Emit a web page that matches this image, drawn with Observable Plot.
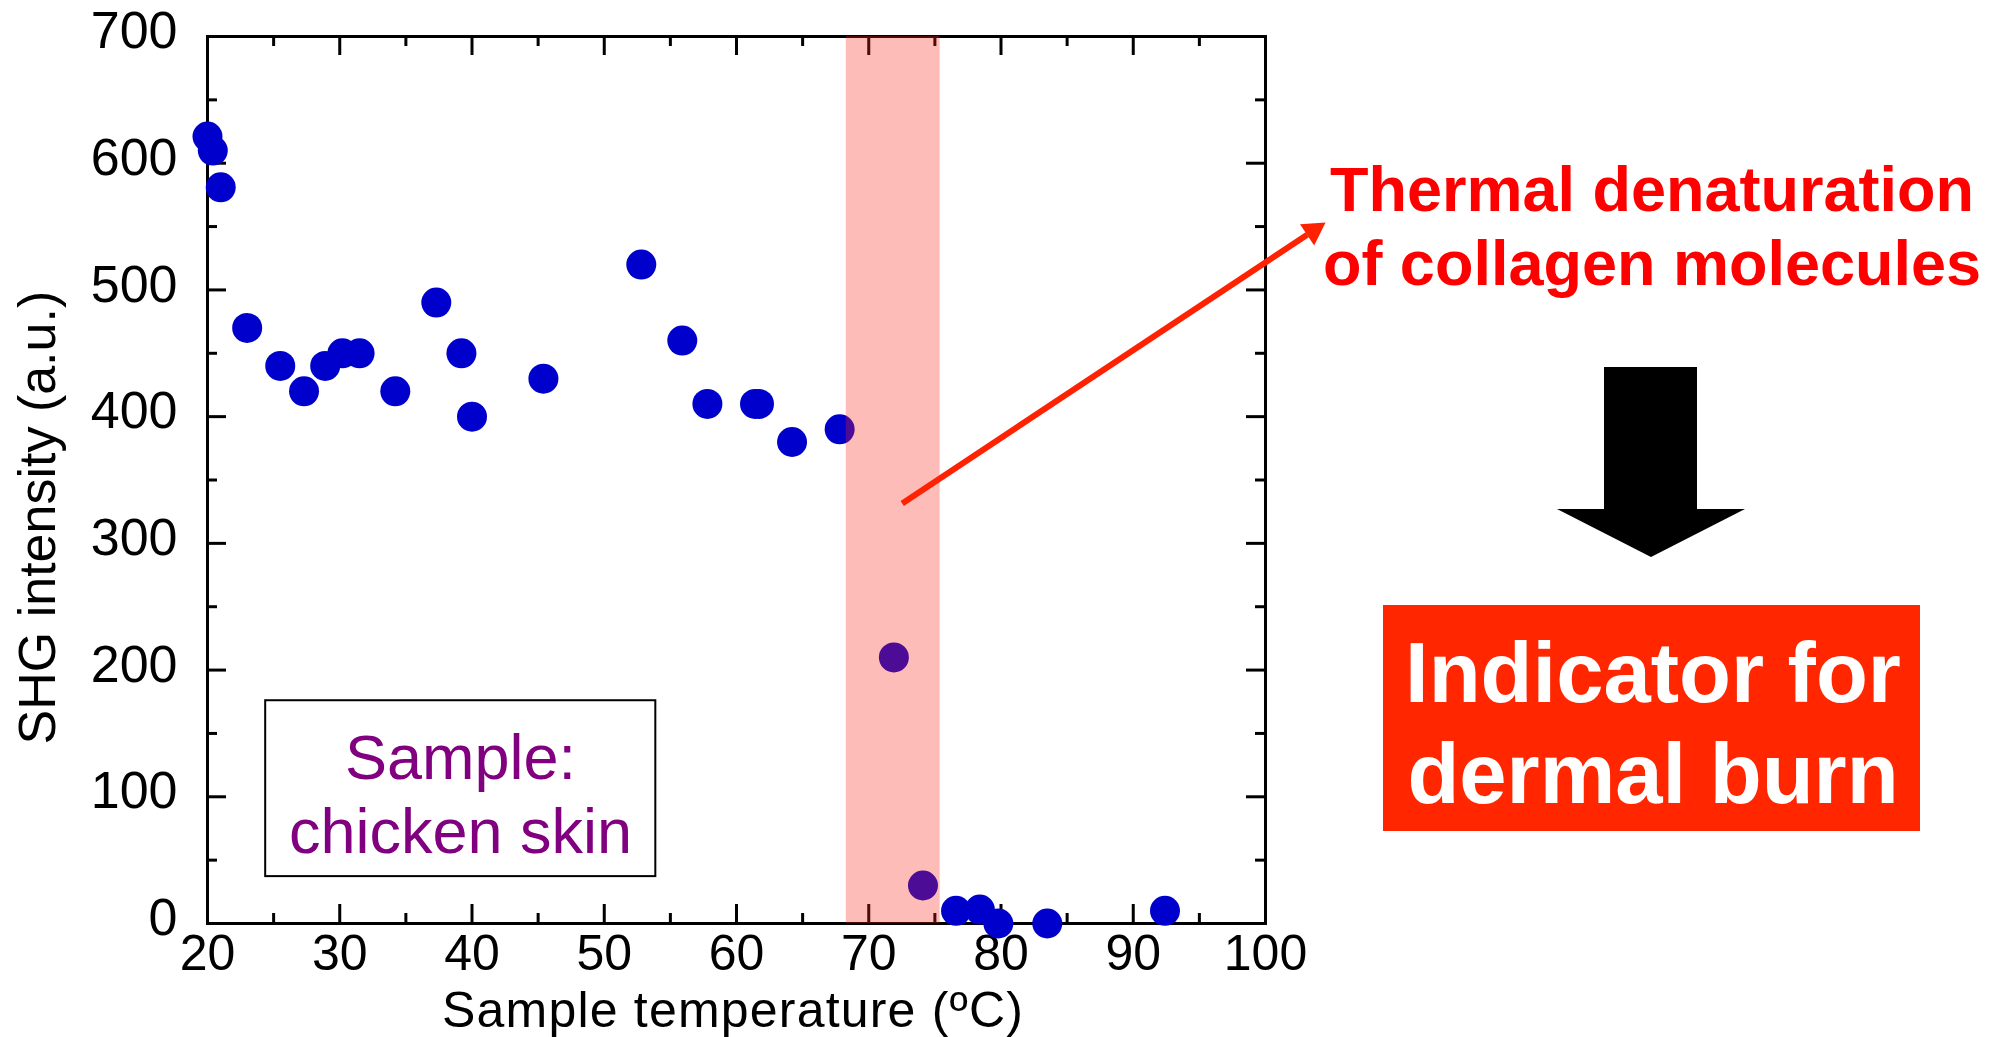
<!DOCTYPE html>
<html><head><meta charset="utf-8">
<script src="https://cdn.jsdelivr.net/npm/d3@7"></script>
<script src="https://cdn.jsdelivr.net/npm/@observablehq/plot@0.6"></script>
<style>
html,body{margin:0;padding:0;background:#fff;overflow:hidden}
#wrap{position:relative;width:2004px;height:1037px}
#wrap svg.overlay{position:absolute;left:0;top:0}
</style></head><body><div id="wrap"></div>
<script>
// ---- data ----
const temperature = [20.0, 20.4, 21.0, 23.0, 25.5, 27.3, 28.9, 30.2, 31.5, 34.2, 37.3, 39.2, 40.0, 45.4, 52.8, 55.9, 57.8, 61.4, 61.7, 64.2, 67.8, 71.9, 74.1, 76.6, 78.4, 79.8, 83.5, 92.4];
const shgIntensity = [621, 610, 581, 470, 440, 420, 440, 450, 450, 420, 490, 450, 400, 430, 520, 460, 410, 410, 410, 380, 390, 210, 30, 10, 11, 0, 0, 10];
const xMajorTicks = [20, 30, 40, 50, 60, 70, 80, 90, 100];
const xMinorTicks = [25, 35, 45, 55, 65, 75, 85, 95];
const yMajorTicks = [0, 100, 200, 300, 400, 500, 600, 700];
const yMinorTicks = [50, 150, 250, 350, 450, 550, 650];
const transitionBand = [{start: 68.3, end: 75.4}];
const xLabel = "Sample temperature (ºC)";
const yLabel = "SHG intensity (a.u.)";
const sampleLines = ["Sample:", "chicken skin"];
const calloutLines = ["Thermal denaturation", "of collagen molecules"];
const indicatorLines = ["Indicator for", "dermal burn"];

const points = temperature.map((t, i) => ({t, v: shgIntensity[i]}));

// ---- layout ----
const W = 2004, H = 1037, mL = 207, mR = 739, mT = 36, mB = 114;
const innerH = H - mT - mB, innerW = W - mL - mR;
const major = 19, minor = 10;
const font = "'Liberation Sans', Arial, Helvetica, sans-serif";
const tickStyle = {stroke: "black", strokeWidth: 3};

const plot = Plot.plot({
  width: W, height: H,
  marginLeft: mL, marginRight: mR, marginTop: mT, marginBottom: mB,
  style: {fontFamily: font, background: "white", overflow: "visible", color: "black"},
  x: {domain: [20, 100]},
  y: {domain: [0, 700]},
  marks: [
    Plot.frame({stroke: "black", strokeWidth: 3}),
    // inward ticks on all four sides
    Plot.ruleX(xMajorTicks, {...tickStyle, insetTop: innerH - major}),
    Plot.ruleX(xMinorTicks, {...tickStyle, insetTop: innerH - minor}),
    Plot.ruleX(xMajorTicks, {...tickStyle, insetBottom: innerH - major}),
    Plot.ruleX(xMinorTicks, {...tickStyle, insetBottom: innerH - minor}),
    Plot.ruleY(yMajorTicks, {...tickStyle, insetRight: innerW - major}),
    Plot.ruleY(yMinorTicks, {...tickStyle, insetRight: innerW - minor}),
    Plot.ruleY(yMajorTicks, {...tickStyle, insetLeft: innerW - major}),
    Plot.ruleY(yMinorTicks, {...tickStyle, insetLeft: innerW - minor}),
    Plot.axisX(xMajorTicks, {tickSize: 0, tickPadding: 11, fontSize: 50, label: null, tickFormat: d => String(d)}),
    Plot.axisY(yMajorTicks, {tickSize: 0, tickPadding: 30, fontSize: 52, dy: -5, label: null, tickFormat: d => String(d)}),
    // data
    Plot.dot(points, {x: "t", y: "v", r: 15, fill: "#0000CC"}),
    // transition band overlays points
    Plot.rect(transitionBand, {x1: "start", x2: "end", fill: "rgb(248,40,25)", fillOpacity: 0.31}),
    // sample box
    Plot.rect([0], {x1: 24.4, x2: 53.9, y1: 37, y2: 175.8, fill: "none", stroke: "black", strokeWidth: 2}),
    Plot.text([sampleLines.join("\n")], {x: 39.13, y: 103.6, text: d => d, fontSize: 63, lineHeight: 1.18, fill: "#800080", textAnchor: "middle", lineAnchor: "middle"}),
    // callout arrow: shaft + filled head
    Plot.link([0], {x1: 72.53, y1: 331.5, x2: 103.15, y2: 543.5, stroke: "#FF2200", strokeWidth: 6, clip: false}),
    Plot.dot([0], {x: 103.61, y: 546.7, symbol: "triangle", r: 9.5, rotate: 56.4, fill: "#FF2200", stroke: "none", clip: false}),
    // axis labels
    Plot.text([yLabel], {frameAnchor: "left", rotate: -90, dx: -169.6, dy: 37.6, fontSize: 52, textAnchor: "middle", lineAnchor: "middle", fill: "black"}),
    Plot.text([xLabel], {frameAnchor: "bottom", dx: -3.4, dy: 87, fontSize: 50, textAnchor: "middle", lineAnchor: "middle", fill: "black"})
  ]
});

// slight letter spacing on the x-axis label, as in the reference
d3.select(plot).selectAll("text").filter(function () { return this.textContent === xLabel; })
  .attr("letter-spacing", 1.2);

const wrap = document.getElementById("wrap");
wrap.appendChild(plot);

// ---- right-hand annotations (overlay) ----
const ov = d3.select(wrap).append("svg")
  .attr("class", "overlay").attr("width", W).attr("height", H)
  .attr("viewBox", `0 0 ${W} ${H}`)
  .style("font-family", font);

ov.selectAll("text.callout").data(calloutLines).join("text")
  .attr("class", "callout")
  .attr("x", 1652).attr("y", (d, i) => 211 + i * 74)
  .attr("text-anchor", "middle").attr("font-size", 63).attr("font-weight", "bold")
  .attr("fill", "#FF0000").text(d => d);

ov.append("polygon")
  .attr("points", "1604,367 1697,367 1697,509 1745,509 1651,557 1557,509 1604,509")
  .attr("fill", "black");

ov.append("rect").attr("x", 1383).attr("y", 605).attr("width", 537).attr("height", 226).attr("fill", "#FF2600");

ov.selectAll("text.ind").data(indicatorLines).join("text")
  .attr("class", "ind")
  .attr("x", 1653).attr("y", (d, i) => 702 + i * 101)
  .attr("text-anchor", "middle").attr("font-size", 85).attr("font-weight", "bold")
  .attr("fill", "white").text(d => d);
</script>
</body></html>
